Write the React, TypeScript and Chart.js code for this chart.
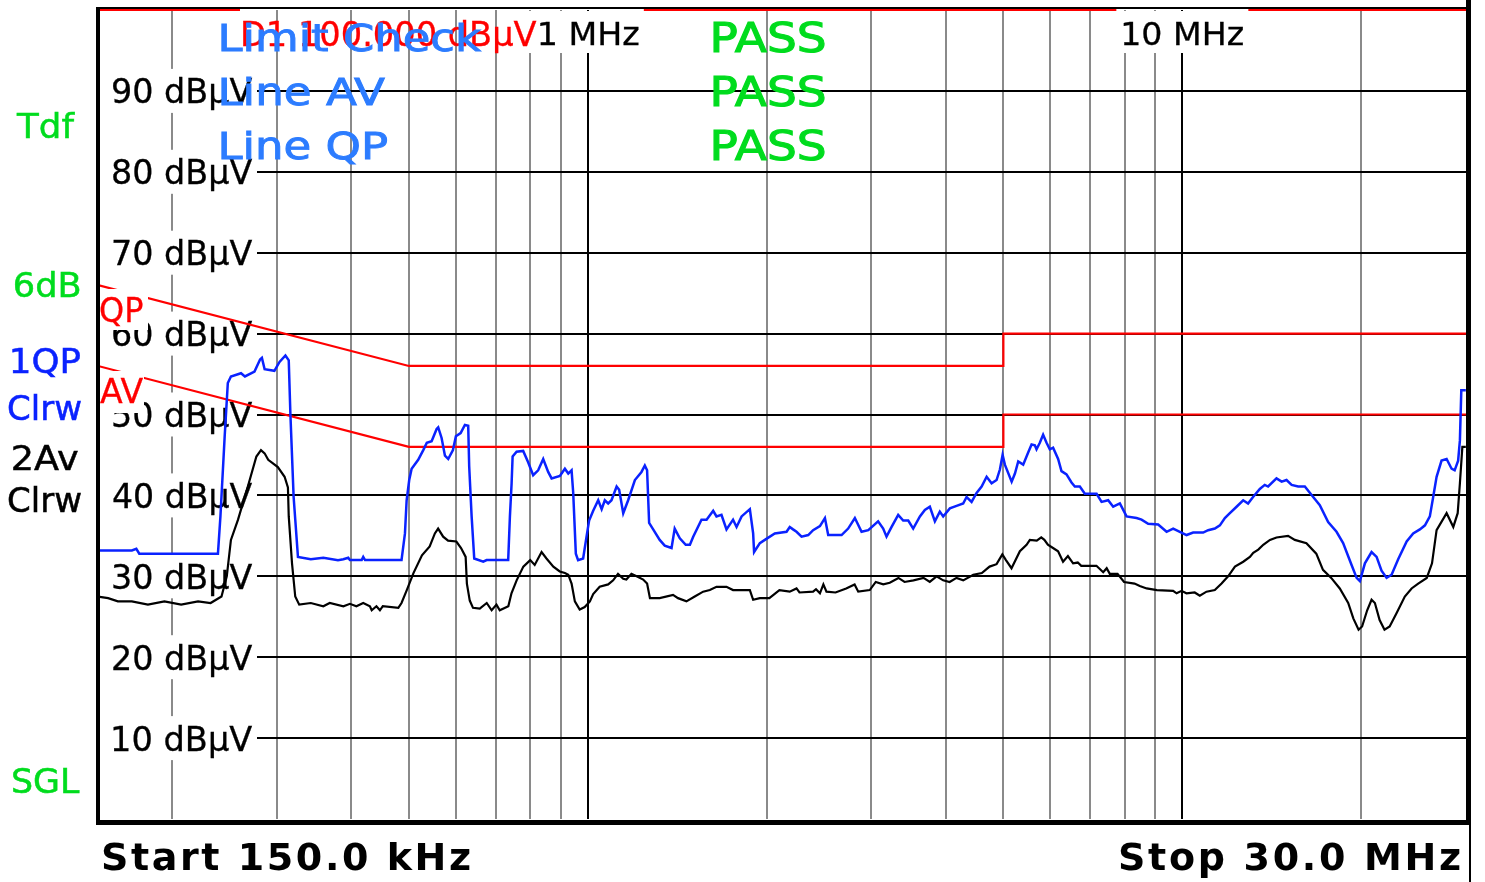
import React, { useEffect, useRef } from 'react';
import { Chart, registerables } from 'chart.js';

Chart.register(...registerables);

const W = 1485;
const H = 882;

// ---- data (frequency in MHz, level in dBµV) ----
const clrwQpFreq = [
  0.150,0.171,0.174,0.176,0.2387,0.241,0.245,0.248,0.251,0.261,
  0.265,0.275,0.281,0.283,0.286,0.297,0.303,0.310,0.314,0.316,
  0.320,0.3254,0.342,0.359,0.380,0.388,0.3954,0.398,0.4165,0.419,
  0.422,0.486,0.4925,0.4957,0.5007,0.5054,0.5184,0.5287,0.536,0.5461,
  0.5568,0.5602,0.5676,0.575,0.5823,0.5931,0.5999,0.611,0.6212,0.6292,
  0.6316,0.6376,0.6441,0.667,0.6757,0.7346,0.7395,0.7444,0.7473,0.7589,
  0.7785,0.7936,0.8092,0.825,0.8413,0.8576,0.8691,0.8974,0.915,0.927,
  0.939,0.945,0.9546,0.963,0.982,0.995,1.005,1.021,1.041,1.055,
  1.068,1.082,1.096,1.118,1.129,1.147,1.169,1.200,1.231,1.247,
  1.258,1.268,1.288,1.321,1.347,1.383,1.400,1.428,1.461,1.485,
  1.504,1.553,1.584,1.625,1.646,1.678,1.711,1.755,1.779,1.814,
  1.873,1.897,1.904,1.947,1.985,2.063,2.159,2.186,2.214,2.244,
  2.288,2.348,2.393,2.457,2.505,2.537,2.672,2.741,2.813,2.887,
  2.963,3.078,3.139,3.180,3.243,3.327,3.392,3.459,3.526,3.619,
  3.689,3.761,3.835,3.909,3.960,4.064,4.171,4.279,4.336,4.421,
  4.507,4.596,4.686,4.777,4.870,4.933,4.985,5.029,5.163,5.229,
  5.296,5.399,5.504,5.577,5.648,5.685,5.758,5.832,5.910,5.985,
  6.062,6.181,6.262,6.385,6.510,6.594,6.723,6.855,7.174,7.314,
  7.503,7.650,7.851,8.057,8.375,8.539,8.760,9.106,9.408,9.651,
  9.904,10.164,10.427,10.839,11.051,11.342,11.564,11.790,12.021,12.337,
  12.656,12.899,13.151,13.50,13.76,13.94,14.40,14.69,14.97,15.27,
  15.66,16.07,16.60,17.03,17.59,18.17,18.64,19.26,19.64,19.89,
  20.28,20.81,21.22,21.63,22.06,22.49,23.07,23.84,24.45,25.09,
  25.59,26.08,26.42,26.77,27.29,27.83,28.37,28.71,29.10,29.30,
  29.46,29.98,
];
const clrwQpLevel = [
  33.2,33.2,33.4,32.8,32.8,37.4,47.3,53.9,54.7,55.1,
  54.7,55.3,56.8,57.0,55.6,55.4,56.5,57.3,56.7,50.1,
  39.8,32.4,32.1,32.3,32.0,32.1,32.3,32.0,32.0,32.4,
  32.0,32.0,35.3,39.4,41.9,43.3,44.4,45.6,46.5,46.7,
  48.2,48.4,47.1,44.9,44.5,45.6,47.3,47.7,48.7,48.6,
  43.6,37.4,32.2,31.8,32.0,32.0,37.4,41.5,44.8,45.4,
  45.5,44.1,42.5,43.1,44.5,42.9,42.1,42.4,43.3,42.7,
  43.1,40.3,32.8,32.0,32.2,34.9,36.9,38.1,39.4,38.3,
  39.4,39.0,39.4,41.1,40.7,37.8,39.4,41.9,42.9,43.7,
  43.1,36.6,35.8,34.5,33.8,33.5,35.9,34.7,33.9,33.9,
  34.9,37.0,37.0,38.1,37.4,37.6,35.8,37.0,36.1,37.4,
  38.3,35.3,33.0,34.1,34.5,35.3,35.5,36.1,35.8,35.5,
  34.9,35.1,35.7,36.2,37.2,35.1,35.1,35.9,37.2,35.5,
  35.7,36.8,35.9,34.9,36.1,37.6,36.9,36.9,35.9,37.4,
  38.2,38.6,36.8,38.0,37.4,38.4,38.7,39.0,39.8,39.2,
  40.3,41.1,42.3,41.5,41.9,43.2,45.0,43.8,41.7,42.7,
  44.2,43.8,45.3,46.3,46.2,45.7,46.5,47.5,46.5,45.7,
  45.9,44.5,43.0,42.6,41.6,41.1,41.1,40.2,40.2,39.2,
  39.4,38.6,39.0,37.4,37.2,37.0,36.5,36.4,35.5,35.9,
  35.5,35.1,35.4,35.4,35.7,35.9,36.3,37.2,37.8,38.6,
  39.4,39.0,39.8,40.8,41.3,41.1,42.1,41.7,41.9,41.3,
  41.1,41.1,39.8,38.8,36.7,35.5,34.1,31.4,29.8,29.4,
  31.6,33.0,32.4,30.7,29.8,30.2,32.1,34.3,35.3,35.8,
  36.3,37.4,39.8,42.3,44.3,44.5,43.3,43.1,44.3,46.8,
  53.0,53.0,
];

const clrwAvFreq = [
  0.150,0.156,0.162,0.171,0.182,0.194,0.207,0.221,0.232,0.242,
  0.247,0.251,0.258,0.268,0.277,0.282,0.286,0.290,0.295,0.301,
  0.309,0.313,0.314,0.318,0.322,0.327,0.342,0.359,0.368,0.388,
  0.398,0.408,0.419,0.430,0.433,0.441,0.447,0.452,0.480,0.486,
  0.496,0.509,0.526,0.542,0.553,0.560,0.571,0.582,0.601,0.612,
  0.623,0.626,0.633,0.641,0.658,0.676,0.689,0.702,0.711,0.735,
  0.744,0.759,0.779,0.800,0.814,0.836,0.852,0.875,0.897,0.915,
  0.927,0.939,0.951,0.969,0.988,1.008,1.021,1.047,1.082,1.103,
  1.124,1.147,1.161,1.184,1.208,1.239,1.258,1.272,1.321,1.391,
  1.418,1.465,1.513,1.563,1.604,1.646,1.711,1.755,1.873,1.897,
  1.947,2.02,2.10,2.186,2.244,2.27,2.393,2.42,2.457,2.49,
  2.52,2.61,2.72,2.81,2.85,2.98,3.05,3.14,3.22,3.33,
  3.41,3.53,3.67,3.76,3.86,3.96,4.06,4.17,4.28,4.45,
  4.60,4.74,4.87,4.98,5.05,5.16,5.33,5.47,5.54,5.69,
  5.79,5.86,5.94,6.06,6.18,6.30,6.42,6.55,6.67,6.76,
  7.17,7.36,7.46,7.55,7.78,7.98,8.31,8.48,8.71,9.06,
  9.65,9.78,9.97,10.16,10.49,10.70,10.98,11.34,11.64,11.94,
  12.26,12.66,12.99,13.16,13.42,13.68,14.04,14.40,15.06,15.46,
  16.17,16.80,17.24,17.80,18.40,19.01,19.39,19.79,20.06,20.46,
  20.81,21.08,21.47,21.88,22.32,22.91,23.67,24.30,24.93,25.77,
  26.30,26.77,27.83,28.56,29.05,29.30,29.58,29.98,
];
const clrwAvLevel = [
  27.5,27.3,26.9,26.9,26.5,26.9,26.5,26.9,26.7,27.5,
  30.0,34.5,37.0,41.1,44.8,45.6,45.2,44.4,44.0,43.5,
  42.3,41.0,37.4,31.6,27.5,26.5,26.7,26.3,26.7,26.3,
  26.6,26.3,26.7,26.3,25.8,26.3,25.8,26.3,26.1,26.7,
  28.3,30.4,32.6,33.7,35.3,35.9,34.9,34.4,34.3,33.5,
  32.4,29.1,27.0,26.1,26.0,26.7,25.8,26.5,25.8,26.3,
  27.9,29.5,31.2,32.0,31.4,33.0,32.2,31.2,30.6,30.4,
  30.2,29.1,26.9,25.9,26.2,26.9,27.8,28.7,29.0,29.5,
  30.3,29.7,29.6,30.3,30.0,29.6,29.1,27.3,27.3,27.7,
  27.3,26.9,27.5,28.1,28.3,28.7,28.7,28.3,28.3,27.1,
  27.3,27.3,28.3,28.1,28.5,28.0,28.1,28.4,27.9,29.0,
  28.1,28.0,28.5,29.0,28.1,28.3,29.3,29.0,29.2,29.8,
  29.3,29.5,29.8,29.3,30.0,29.5,29.3,29.8,29.5,30.2,
  30.4,31.2,31.5,32.7,32.0,31.0,33.1,33.9,34.5,34.4,
  34.8,34.5,33.9,33.5,33.1,31.8,32.5,31.6,31.7,31.3,
  31.3,30.5,31.0,30.3,30.3,29.3,29.1,28.8,28.5,28.3,
  28.2,27.9,28.2,27.9,28.0,27.6,28.1,28.3,29.1,30.0,
  31.2,31.8,32.4,32.9,33.3,33.9,34.5,34.8,35.0,34.5,
  34.1,32.8,30.8,29.8,28.5,26.7,24.8,23.4,23.8,25.8,
  27.1,26.7,24.6,23.4,23.8,25.4,27.5,28.5,29.1,29.8,
  31.6,35.7,37.8,36.1,37.8,41.5,46.0,46.0,
];

const limitQpFreq = [0.15, 0.5, 5, 5, 30];
const limitQpLevel = [66, 56, 56, 60, 60];
const limitAvFreq = [0.15, 0.5, 5, 5, 30];
const limitAvLevel = [56, 46, 46, 50, 50];
const displayLineLevel = 100;

const xGridMHz = [0.2, 0.3, 0.4, 0.5, 0.6, 0.7, 0.8, 0.9, 1, 2, 3, 4, 5, 6, 7, 8, 9, 10, 20];
const xMajorMHz = [1, 10];
const xMarkerLabels = ['1 MHz', '10 MHz'];
const yTickValues = [10, 20, 30, 40, 50, 60, 70, 80, 90];
const yTickLabels = yTickValues.map((v) => `${v} dBµV`);

const checkRows = ['Limit Check', 'Line AV', 'Line QP'];
const checkResults = ['PASS', 'PASS', 'PASS'];

const FONT = '"DejaVu Sans", Verdana, sans-serif';
const GREEN = '#00dc1e';
const LIGHT_BLUE = '#2c7cff';
const TRACE_BLUE = '#0a22ff';
const RED = '#ff0000';
const GRAY = '#8a8a8a';

// stretch text horizontally so its ink spans [left, left+width]
function stretchText(ctx: any, text: string, left: number, baseline: number, width: number, font: string, color: string, stroke = 0) {
  ctx.save();
  ctx.font = font;
  ctx.fillStyle = color;
  ctx.textAlign = 'left';
  ctx.textBaseline = 'alphabetic';
  const m = ctx.measureText(text);
  const ink = m.actualBoundingBoxLeft + m.actualBoundingBoxRight;
  const sx = width / ink;
  ctx.translate(left, baseline);
  ctx.scale(sx, 1);
  ctx.fillText(text, m.actualBoundingBoxLeft, 0);
  if (stroke > 0) {
    ctx.strokeStyle = color;
    ctx.lineWidth = stroke;
    ctx.strokeText(text, m.actualBoundingBoxLeft, 0);
  }
  ctx.restore();
}

// spread characters so the ink spans [left, left+width]
function spacedText(ctx: any, text: string, left: number, baseline: number, width: number, font: string, color: string) {
  ctx.save();
  ctx.font = font;
  ctx.fillStyle = color;
  ctx.textAlign = 'left';
  ctx.textBaseline = 'alphabetic';
  const chars = Array.from(text);
  const adv = chars.map((c) => ctx.measureText(c).width);
  const first = ctx.measureText(chars[0]);
  const last = ctx.measureText(chars[chars.length - 1]);
  let sum = 0;
  for (let i = 0; i < chars.length - 1; i++) sum += adv[i];
  const ink = sum + last.actualBoundingBoxRight + first.actualBoundingBoxLeft;
  const extra = chars.length > 1 ? (width - ink) / (chars.length - 1) : 0;
  let x = left + first.actualBoundingBoxLeft;
  chars.forEach((c, i) => {
    ctx.fillText(c, x, baseline);
    x += adv[i] + extra;
  });
  ctx.restore();
}

export default function App() {
  const ref = useRef<HTMLCanvasElement>(null);

  useEffect(() => {
    const canvas = ref.current as HTMLCanvasElement;
    const pts = (f: number[], l: number[]) => f.map((x, i) => ({ x, y: l[i] }));

    const overlay = {
      id: 'emiOverlay',
      beforeDatasetsDraw(chart: any) {
        const { ctx, chartArea } = chart;
        const xs = chart.scales.x;
        const ys = chart.scales.y;
        ctx.save();
        yTickValues.forEach((v, i) => {
          const gy = ys.getPixelForValue(v);
          ctx.fillStyle = '#fff';
          ctx.fillRect(chartArea.left + 2, gy - 22, 257 - chartArea.left - 2, 44);
          stretchText(ctx, yTickLabels[i], 113, gy + 12.5, 139, `34px ${FONT}`, '#000', 0.3);
        });
        const dy = ys.getPixelForValue(displayLineLevel);
        const m1 = xs.getPixelForValue(xMajorMHz[0]);
        const m10 = xs.getPixelForValue(xMajorMHz[1]);
        ctx.strokeStyle = RED;
        ctx.lineWidth = 2;
        ctx.beginPath();
        ctx.moveTo(chartArea.left, dy);
        ctx.lineTo(240, dy);
        ctx.moveTo(m1 + 56, dy);
        ctx.lineTo(m10 - 66, dy);
        ctx.moveTo(m10 + 66, dy);
        ctx.lineTo(chartArea.right, dy);
        ctx.stroke();
        ctx.fillStyle = '#fff';
        ctx.fillRect(m1 - 60, chartArea.top + 1, 116, 42);
        ctx.fillRect(m10 - 66, chartArea.top + 1, 132, 42);
        ctx.restore();
      },
      afterDatasetsDraw(chart: any) {
        const { ctx } = chart;
        const xs = chart.scales.x;
        ctx.save();
        ctx.fillStyle = '#fff';
        ctx.fillRect(100, 289, 48, 41);
        ctx.fillRect(100, 371, 44, 42);
        stretchText(ctx, 'QP', 100, 322, 43, `34px ${FONT}`, RED, 0.3);
        stretchText(ctx, 'AV', 100, 403, 43, `34px ${FONT}`, RED, 0.3);
        stretchText(ctx, `D1 ${displayLineLevel.toFixed(3)} dBµV`, 243, 46, 294, `33px ${FONT}`, RED, 0.3);
        const m1 = xs.getPixelForValue(xMajorMHz[0]);
        const m10 = xs.getPixelForValue(xMajorMHz[1]);
        stretchText(ctx, xMarkerLabels[0], m1 - 48, 45, 99, `32px ${FONT}`, '#000', 0.3);
        stretchText(ctx, xMarkerLabels[1], m10 - 59, 45, 120, `32px ${FONT}`, '#000', 0.3);
        const rowBase = [51, 105, 159];
        const rowW = [260, 164, 166];
        checkRows.forEach((t, i) => {
          stretchText(ctx, t, 221, rowBase[i], rowW[i], `38px ${FONT}`, LIGHT_BLUE, 0.9);
          stretchText(ctx, checkResults[i], 713, rowBase[i] + 1, 112, `40px ${FONT}`, GREEN, 1.1);
        });
        ctx.restore();
      },
      afterDraw(chart: any) {
        const { ctx } = chart;
        ctx.save();
        ctx.fillStyle = '#000';
        ctx.fillRect(96, 7, 1375, 2);
        ctx.fillRect(96, 7, 4, 818);
        ctx.fillRect(96, 820, 1375, 5);
        ctx.fillRect(1466, 0, 5, 825);
        ctx.fillRect(1469, 825, 2, 57);
        stretchText(ctx, 'Tdf', 16, 138, 59, `34px ${FONT}`, GREEN, 0.5);
        stretchText(ctx, '6dB', 15, 297, 65, `33px ${FONT}`, GREEN, 0.5);
        stretchText(ctx, '1QP', 12, 373, 68, `33px ${FONT}`, TRACE_BLUE, 0.5);
        stretchText(ctx, 'Clrw', 8, 420, 73, `33px ${FONT}`, TRACE_BLUE, 0.5);
        stretchText(ctx, '2Av', 13, 470, 65, `33px ${FONT}`, '#000', 0.5);
        stretchText(ctx, 'Clrw', 8, 512, 73, `33px ${FONT}`, '#000', 0.5);
        stretchText(ctx, 'SGL', 13, 793, 67, `33px ${FONT}`, GREEN, 0.5);
        spacedText(ctx, 'Start 150.0 kHz', 103, 870, 367, `bold 38px ${FONT}`, '#000');
        spacedText(ctx, 'Stop 30.0 MHz', 1120, 870, 340, `bold 38px ${FONT}`, '#000');
        ctx.restore();
      },
    };

    const chart = new Chart(canvas, {
      type: 'line',
      data: {
        datasets: [
          { label: '1QP Clrw', data: pts(clrwQpFreq, clrwQpLevel), borderColor: TRACE_BLUE, borderWidth: 2.5, pointRadius: 0, tension: 0 },
          { label: '2Av Clrw', data: pts(clrwAvFreq, clrwAvLevel), borderColor: '#000', borderWidth: 2.2, pointRadius: 0, tension: 0 },
          { label: 'QP limit', data: pts(limitQpFreq, limitQpLevel), borderColor: RED, borderWidth: 2.2, pointRadius: 0, tension: 0 },
          { label: 'AV limit', data: pts(limitAvFreq, limitAvLevel), borderColor: RED, borderWidth: 2.2, pointRadius: 0, tension: 0 },
        ],
      },
      options: {
        responsive: false,
        animation: false,
        devicePixelRatio: 1,
        layout: { padding: { left: 98, right: W - 1466, top: 10, bottom: H - 819 } },
        plugins: { legend: { display: false }, tooltip: { enabled: false } },
        scales: {
          x: {
            type: 'logarithmic',
            min: 0.15,
            max: 30,
            ticks: { display: false },
            border: { display: false },
            grid: {
              drawTicks: false,
              lineWidth: 2,
              color: (c: any) => (c.tick && xMajorMHz.includes(c.tick.value) ? '#000' : GRAY),
            },
            afterBuildTicks: (s: any) => { s.ticks = xGridMHz.map((v) => ({ value: v })); },
            afterFit: (s: any) => { s.height = 0; },
          },
          y: {
            type: 'linear',
            min: 0,
            max: 100,
            ticks: { display: false },
            border: { display: false },
            grid: { drawTicks: false, lineWidth: 2, color: '#000' },
            afterBuildTicks: (s: any) => { s.ticks = yTickValues.map((v) => ({ value: v })); },
            afterFit: (s: any) => { s.width = 0; },
          },
        },
      },
      plugins: [overlay],
    } as any);

    return () => chart.destroy();
  }, []);

  return (
    <div style={{ position: 'fixed', left: 0, top: 0, width: W, height: H, background: '#fff' }}>
      <canvas ref={ref} width={W} height={H} style={{ width: W, height: H, display: 'block' }} />
    </div>
  );
}
